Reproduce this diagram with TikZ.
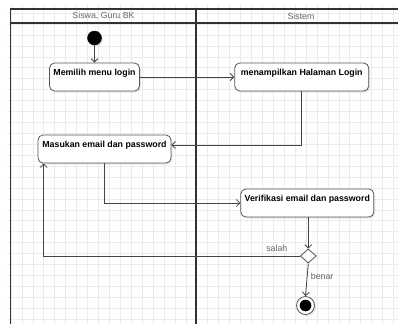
\documentclass[tikz,border=0pt]{standalone}
\usepackage{fontspec}
\setmainfont{Liberation Sans}
\usetikzlibrary{arrows.meta,shapes.geometric,shadows,calc}
\definecolor{gridgray}{HTML}{EBEBEB}
\definecolor{poolline}{HTML}{333333}
\definecolor{boxline}{HTML}{555555}
\definecolor{wire}{HTML}{444444}
\definecolor{lbl}{HTML}{666666}

\begin{document}
\begin{tikzpicture}[x=1pt,y=-1pt,
  gridline/.style={gridgray, line width=0.7pt},
  lane/.style={poolline, line width=1.6pt},
  lanetitle/.style={text=lbl, font=\fontsize{8.8}{10}\selectfont},
  softshadow/.style={drop shadow={shadow xshift=1.5pt, shadow yshift=-1.5pt, opacity=0.18}},
  action/.style={draw=boxline, line width=0.8pt, fill=white, rounded corners=5pt,
    inner xsep=0pt, inner ysep=0pt, text height=12.5pt, text depth=15.5pt,
    font=\fontsize{8.8}{10}\selectfont\bfseries, softshadow},
  initial/.style={circle, fill=black, draw=black, minimum size=14pt, inner sep=0pt, softshadow},
  final/.style={circle, draw=boxline, line width=0.8pt, fill=white, minimum size=18pt, inner sep=0pt, softshadow,
    path picture={\fill[black] (path picture bounding box.center) circle (5.8pt);}},
  decision/.style={diamond, draw=boxline, line width=0.8pt, fill=white, minimum width=16pt, minimum height=14pt, inner sep=0pt},
  flow/.style={wire, line width=0.8pt, -{Straight Barb[length=3.5pt,width=7pt]}},
  guard/.style={text=lbl, font=\fontsize{8.8}{10}\selectfont},
]
\useasboundingbox (0,0) rectangle (398,324);

% background grid
\foreach \k in {0,...,35}
  \draw[gridline] ({11+10.93*\k},5) -- ({11+10.93*\k},324);
\foreach \k in {1,...,29}
  \draw[gridline] (7,{2.2+10.93*\k}) -- (398,{2.2+10.93*\k});

% swimlane pool
\draw[lane] (10.5,324) -- (10.5,9) -- (398,9);
\draw[lane] (10.5,23) -- (398,23);
\draw[lane] (196,9) -- (196,324);
\node[lanetitle] (laneA) at (103.5,16) {Siswa, Guru BK};
\node[lanetitle] (laneB) at (301,16) {Sistem};

% activities
\node[initial] (start) at (94.5,38) {};
\node[action, minimum width=90pt] (memilih) at (94.5,77) {Memilih menu login};
\node[action, minimum width=134pt] (tampil) at (301.7,77) {menampilkan Halaman Login};
\node[action, minimum width=133pt] (masukan) at (104.5,149) {Masukan email dan password};
\node[action, minimum width=133pt] (verif) at (307.3,203) {Verifikasi email dan password};
\node[decision] (cek) at (308.3,256) {};
\node[final] (stop) at (305.5,305.5) {};

% control flow
\draw[flow] (start) -- (memilih);
\draw[flow] (memilih.east) -- (tampil.west);
\draw[flow] (tampil.south) |- ($(masukan.east)+(0,-4)$);
\draw[flow] (masukan.south) |- (verif.west);
\draw[flow] (verif.south -| cek.north) -- (cek.north);
\draw[flow] (cek.west) -| node[guard, above=1pt, pos=0.045] (salah) {salah} ($(masukan.south west)+(6,0)$);
\draw[flow] (cek.south) -- node[guard, right, pos=0.4] (benar) {benar} (stop.north);
\end{tikzpicture}
\end{document}
